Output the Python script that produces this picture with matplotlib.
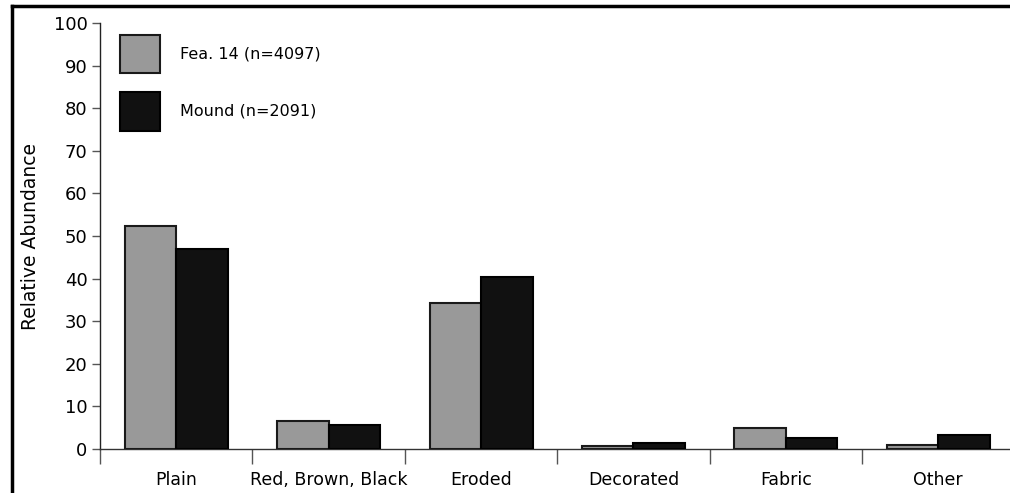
import matplotlib
matplotlib.use('Agg')
import matplotlib.pyplot as plt
from matplotlib.patches import Patch
from matplotlib.lines import Line2D
import numpy as np

categories = ['Plain', 'Red, Brown, Black', 'Eroded', 'Decorated', 'Fabric', 'Other']
fea14 = [52.4, 6.6, 34.3, 0.8, 4.9, 0.85]
mound = [46.9, 5.6, 40.4, 1.4, 2.6, 3.2]
series_names = ['Fea. 14 (n=4097)', 'Mound (n=2091)']
yticks = [0, 10, 20, 30, 40, 50, 60, 70, 80, 90, 100]

plt.rcParams['font.family'] = ['DejaVu Sans']

fig = plt.figure(figsize=(10.1, 4.93), dpi=100)
ax = fig.add_axes([100/1010, 44/493, 910/1010, 426/493])

x = np.arange(len(categories)) + 0.5
w = 51.5/152.4
ax.bar(x - w/2, fea14, w, color='#999999', edgecolor='#1a1a1a', linewidth=1.5, zorder=3)
ax.bar(x + w/2, mound, w, color='#111111', edgecolor='#000000', linewidth=1.5, zorder=3)

ax.set_xlim(0, 910/152.4)
ax.set_ylim(0, 100)
ax.set_yticks(yticks)
ax.tick_params(axis='y', length=6, width=1, color='#555555', labelsize=13, pad=3)

ax.set_xticks(np.arange(0, 6))
ax.set_xticklabels([])
ax.set_xticks(x, minor=True)
ax.set_xticklabels(categories, minor=True)
ax.tick_params(axis='x', which='major', length=11, width=1, color='#555555', direction='out')
ax.tick_params(axis='x', which='minor', length=0, labelsize=12.5, pad=16)

for s in ['top', 'right']:
    ax.spines[s].set_visible(False)
ax.spines['left'].set_color('#222222')
ax.spines['bottom'].set_color('#333333')
ax.spines['left'].set_linewidth(1)
ax.spines['bottom'].set_linewidth(1)

ax.set_ylabel('Relative Abundance', fontsize=13.5, labelpad=10)

handles = [Patch(facecolor='#999999', edgecolor='#1a1a1a', linewidth=1.5),
           Patch(facecolor='#111111', edgecolor='#000000', linewidth=1.5)]
ax.legend(handles, series_names, loc='upper left', bbox_to_anchor=(120/1010, 1 - 35/493),
          bbox_transform=fig.transFigure, frameon=False, fontsize=11.5,
          handlelength=2.5, handleheight=3.3, handletextpad=1.25, labelspacing=1.2,
          borderpad=0, borderaxespad=0)

# frame lines of the original figure
fig.add_artist(Line2D([11.5/1010, 1.0], [1 - 6/493, 1 - 6/493], color='black', linewidth=2.5,
                      transform=fig.transFigure))
fig.add_artist(Line2D([11.5/1010, 11.5/1010], [0, 1 - 6/493], color='black', linewidth=2.5,
                      transform=fig.transFigure))

fig.savefig('out.png', dpi=100)
